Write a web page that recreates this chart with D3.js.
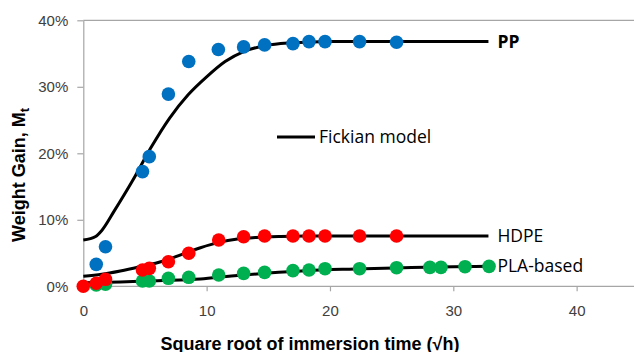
<!DOCTYPE html>
<html>
<head>
<meta charset="utf-8">
<script src="https://cdn.jsdelivr.net/npm/d3@7"></script>
<style>
  html, body { margin: 0; padding: 0; background: #fff; }
  svg { display: block; }
</style>
</head>
<body>
<svg id="chart" width="634" height="352"></svg>
<script>
// Measured weight gain (%) vs square root of immersion time
const ppX   = [1.05, 1.8, 4.8, 5.35, 6.9, 8.55, 10.95, 13.0, 14.7, 17.0, 18.3, 19.6, 22.4, 25.4];
const ppY   = [3.3, 5.95, 17.25, 19.5, 28.9, 33.8, 35.6, 36.0, 36.3, 36.5, 36.8, 36.8, 36.8, 36.7];

const hdpeX = [0, 1.05, 1.8, 4.8, 5.35, 6.9, 8.55, 10.98, 13.0, 14.7, 17.0, 18.3, 19.6, 22.4, 25.4];
const hdpeY = [0, 0.45, 1.05, 2.45, 2.7, 3.7, 4.96, 6.96, 7.46, 7.56, 7.56, 7.56, 7.56, 7.56, 7.56];

const plaX  = [1.05, 1.8, 4.8, 5.35, 6.9, 8.55, 10.98, 13.0, 14.7, 17.0, 18.3, 19.6, 22.4, 25.4, 28.1, 29.0, 30.95, 32.9];
const plaY  = [0.2, 0.3, 0.8, 0.8, 1.2, 1.35, 1.7, 1.95, 2.1, 2.35, 2.45, 2.65, 2.65, 2.8, 2.85, 2.85, 2.95, 3.0];

// Fickian model curves
const ppModelX   = [0, 1, 1.5, 2.5, 4, 5.5, 7, 8.5, 10, 11.5, 13, 14.5, 16, 18, 20, 25, 32.85];
const ppModelY   = [6.96, 7.5, 8.4, 11.3, 15.9, 20.9, 25.3, 28.8, 31.5, 33.8, 35.3, 36.1, 36.5, 36.7, 36.8, 36.8, 36.8];
const hdpeModelX = [0, 1.5, 3, 4.5, 6.5, 8, 9.5, 11, 12.5, 14, 16, 18, 20, 32.85];
const hdpeModelY = [1.5, 1.8, 2.3, 2.9, 3.8, 4.8, 5.8, 6.6, 7.1, 7.35, 7.5, 7.56, 7.56, 7.56];
const plaModelX  = [0, 3, 6, 9.5, 12, 15, 18, 22, 26, 30, 32.85];
const plaModelY  = [0.55, 0.65, 0.85, 1.1, 1.55, 2.0, 2.35, 2.6, 2.8, 2.95, 3.0];

const xTicks = [0, 10, 20, 30, 40];
const yTicks = [0, 10, 20, 30, 40];

const seriesNames = ["PP", "HDPE", "PLA-based"];
const legendText = "Fickian model";
const xTitle = "Square root of immersion time (\u221Ah)";

const svg = d3.select("#chart");
const x = d3.scaleLinear().domain([0, 45]).range([83.3, 638.3]);
const y = d3.scaleLinear().domain([0, 40]).range([286.3, 20.3]);

const axisColor = "#a6a6a6";
const textColor = "#404040";
const arial = "'Liberation Sans', Arial, sans-serif";

// frame: top border, left axis, bottom axis
svg.append("line").attr("x1", x(0)).attr("x2", 634).attr("y1", y(40)).attr("y2", y(40))
  .attr("stroke", axisColor).attr("stroke-width", 1.2);

const xAxis = svg.append("g").attr("transform", `translate(0,${y(0)})`)
  .call(d3.axisBottom(x).tickValues(xTicks).tickSize(5).tickSizeOuter(0).tickPadding(14));
xAxis.select(".domain").remove();
xAxis.append("line").attr("x1", x(0)).attr("x2", 634).attr("stroke", axisColor).attr("stroke-width", 1.2);
xAxis.selectAll(".tick line").attr("stroke", axisColor).attr("stroke-width", 1.2)
  .filter(d => d === 0).remove();
xAxis.selectAll(".tick text").attr("fill", textColor)
  .style("font-family", arial).style("font-size", "15px");

const yAxis = svg.append("g").attr("transform", `translate(${x(0)},0)`)
  .call(d3.axisLeft(y).tickValues(yTicks).tickFormat(d => d + "%").tickSize(6).tickSizeOuter(0).tickPadding(9));
yAxis.select(".domain").attr("stroke", axisColor).attr("stroke-width", 1.2);
yAxis.selectAll(".tick line").attr("stroke", axisColor).attr("stroke-width", 1.2);
yAxis.selectAll(".tick text").attr("fill", textColor)
  .style("font-family", arial).style("font-size", "15px");

// model curves
const line = d3.line().x(d => x(d[0])).y(d => y(d[1])).curve(d3.curveMonotoneX);
const models = [
  [ppModelX, ppModelY],
  [hdpeModelX, hdpeModelY],
  [plaModelX, plaModelY]
];
models.forEach(([mx, my]) => {
  svg.append("path").datum(d3.zip(mx, my)).attr("d", line)
    .attr("fill", "none").attr("stroke", "#000").attr("stroke-width", 3);
});

// measured points (PLA first, then HDPE and PP on top)
const pointSets = [
  [plaX, plaY, "#00b050"],
  [hdpeX, hdpeY, "#ff0000"],
  [ppX, ppY, "#0070c0"]
];
pointSets.forEach(([px, py, c]) => {
  svg.append("g").selectAll("circle").data(d3.zip(px, py)).join("circle")
    .attr("cx", d => x(d[0])).attr("cy", d => y(d[1])).attr("r", 6.8).attr("fill", c);
});

// series labels at the end of each model curve
const labelFont = "'Open Sans', 'Noto Sans', sans-serif";
const ends = [
  [ppModelY[ppModelY.length - 1], "bold"],
  [hdpeModelY[hdpeModelY.length - 1], "normal"],
  [plaModelY[plaModelY.length - 1], "normal"]
];
seriesNames.forEach((name, i) => {
  svg.append("text").attr("x", x(32.85) + 9).attr("y", y(ends[i][0]))
    .attr("dy", "0.35em").attr("fill", "#000")
    .style("font-family", labelFont).style("font-size", "17.5px").style("font-weight", ends[i][1])
    .text(name);
});

// legend
svg.append("line").attr("x1", 277).attr("x2", 315).attr("y1", 137).attr("y2", 137)
  .attr("stroke", "#000").attr("stroke-width", 3);
svg.append("text").attr("x", 319).attr("y", 137).attr("dy", "0.35em").attr("fill", "#000")
  .style("font-family", labelFont).style("font-size", "17.5px").text(legendText);

// axis titles
svg.append("text").attr("x", 310).attr("y", 344).attr("dy", "0.35em").attr("text-anchor", "middle")
  .attr("fill", "#000").style("font-family", arial)
  .style("font-size", "18px").style("font-weight", "bold").text(xTitle);

const yt = svg.append("text").attr("transform", "translate(25,175) rotate(-90)")
  .attr("text-anchor", "middle").attr("fill", "#000")
  .style("font-family", arial)
  .style("font-size", "18px").style("font-weight", "bold");
yt.append("tspan").text("Weight Gain, M");
yt.append("tspan").attr("dy", 4).style("font-size", "13px").text("t");
</script>
</body>
</html>
